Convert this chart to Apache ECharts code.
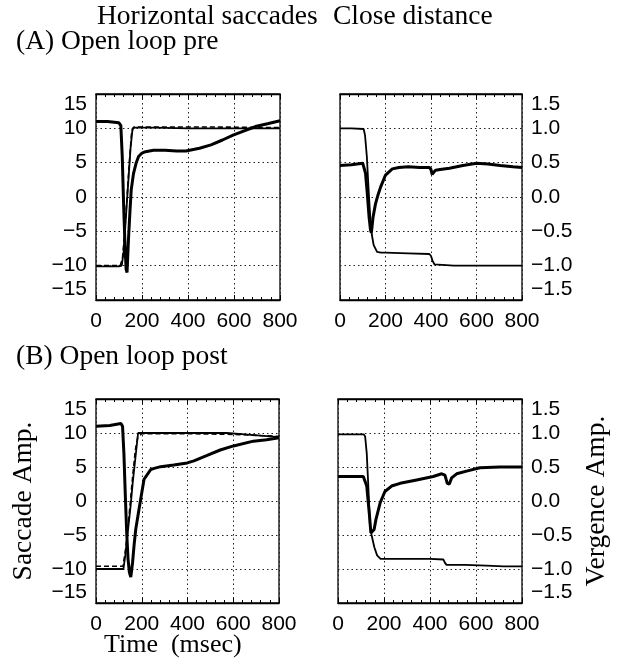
<!DOCTYPE html>
<html><head><meta charset="utf-8">
<script src="https://cdn.jsdelivr.net/npm/echarts@6/dist/echarts.min.js"></script>
<style>html,body{margin:0;padding:0;background:#fff}#c{width:619px;height:660px}</style>
</head><body><div id="c"></div>
<script>
// ---- tick labels ----
const timeTicks = [0, 200, 400, 600, 800];
const saccadeTicks = [-15, -10, -5, 0, 5, 10, 15];
const vergenceTicks = [-1.5, -1.0, -0.5, 0.0, 0.5, 1.0, 1.5];

// ---- (A) open loop pre, horizontal saccades ----
const aSacThickT = [0, 50, 100, 108, 114, 120, 126, 131, 135, 141, 147, 153, 163, 175, 185, 200, 215, 250, 300, 350, 391, 450, 500, 550, 596, 650, 698, 750, 800];
const aSacThickV = [11.0, 11.0, 10.8, 10.4, 6.0, -1.0, -7.0, -10.5, -11.0, -6.3, -2.5, 1.0, 3.4, 5.0, 5.9, 6.4, 6.6, 6.8, 6.8, 6.7, 6.7, 7.1, 7.6, 8.3, 9.0, 9.7, 10.3, 10.7, 11.1];
const aSacThinT = [0, 50, 100, 112, 120, 130, 140, 150, 159, 170, 250, 400, 600, 800];
const aSacThinV = [-10.1, -10.1, -10.1, -10.0, -8.0, -3.0, 2.0, 7.0, 10.0, 10.1, 10.1, 10.0, 10.0, 10.0];
const aSacDashT = [0, 105, 115, 125, 135, 145, 155, 165, 300, 500, 800];
const aSacDashV = [-10.0, -10.0, -9.0, -5.0, 0.0, 5.0, 9.5, 10.2, 10.2, 10.2, 10.1];

// ---- (A) open loop pre, vergence ----
const aVerThinT = [0, 50, 104, 110, 118, 125, 133, 140, 148, 163, 180, 200, 300, 393, 400, 407, 415, 422, 500, 600, 700, 800];
const aVerThinV = [1.0, 1.0, 0.99, 0.9, 0.59, 0.15, -0.3, -0.55, -0.7, -0.8, -0.81, -0.81, -0.82, -0.83, -0.86, -0.93, -0.98, -1.0, -1.0, -1.0, -1.0, -1.0];
const aVerThickT = [0, 50, 100, 106, 112, 120, 128, 134, 138, 145, 156, 167, 178, 200, 230, 259, 300, 350, 393, 400, 405, 412, 420, 440, 481, 540, 600, 650, 704, 760, 800];
const aVerThickV = [0.46, 0.47, 0.49, 0.48, 0.35, 0.05, -0.3, -0.48, -0.52, -0.3, -0.10, 0.03, 0.14, 0.32, 0.41, 0.43, 0.44, 0.43, 0.43, 0.40, 0.33, 0.36, 0.39, 0.40, 0.42, 0.46, 0.49, 0.48, 0.46, 0.44, 0.43];

// ---- (B) open loop post, horizontal saccades ----
const bSacThickT = [0, 60, 109, 116, 122, 128, 134, 140, 146, 152, 160, 167, 174, 188, 210, 239, 254, 283, 340, 399, 428, 486, 543, 601, 688, 746, 800];
const bSacThickV = [11.0, 11.1, 11.4, 11.0, 7.0, 1.0, -4.5, -8.5, -10.5, -11.2, -9.0, -6.3, -4.1, -1.2, 3.2, 4.6, 4.8, 5.05, 5.3, 5.6, 5.9, 6.7, 7.5, 8.1, 8.8, 9.0, 9.3];
const bSacThinT = [0, 60, 120, 128, 136, 144, 152, 160, 168, 176, 184, 250, 400, 572, 650, 720, 800];
const bSacThinV = [-10.0, -10.0, -10.0, -8.0, -5.5, -3.0, -0.5, 2.5, 5.0, 7.5, 10.0, 10.0, 10.0, 10.0, 9.8, 9.6, 9.4];
const bSacDashT = [0, 118, 130, 145, 160, 172, 182, 200, 400, 600, 800];
const bSacDashV = [-9.6, -9.6, -7.0, -2.0, 3.5, 7.5, 9.3, 9.9, 9.9, 9.8, 9.5];

// ---- (B) open loop post, vergence ----
const bVerThinT = [0, 60, 112, 118, 125, 132, 139, 146, 158, 170, 185, 204, 300, 400, 458, 465, 472, 550, 646, 720, 800];
const bVerThinV = [0.98, 0.98, 0.98, 0.95, 0.7, 0.2, -0.37, -0.5, -0.68, -0.8, -0.85, -0.85, -0.85, -0.85, -0.86, -0.91, -0.94, -0.94, -0.95, -0.96, -0.96];
const bVerThickT = [0, 60, 110, 125, 136, 143, 151, 157, 165, 183, 204, 233, 270, 342, 414, 451, 465, 475, 484, 494, 516, 559, 617, 704, 800];
const bVerThickV = [0.36, 0.36, 0.36, 0.22, -0.18, -0.47, -0.48, -0.42, -0.27, -0.03, 0.14, 0.22, 0.26, 0.31, 0.36, 0.40, 0.38, 0.26, 0.25, 0.34, 0.40, 0.44, 0.49, 0.50, 0.50];

// ---------------------------------------------------------------
const SANS = '"Liberation Sans", Arial, Helvetica, sans-serif';
const SERIF = '"Liberation Serif", "Times New Roman", serif';
const zip = (t, v) => t.map((x, i) => [x, v[i]]);
const minus = s => s.replace('-', '\u2212');

const grids = [
  {left: 96, top: 94, width: 184, height: 206},
  {left: 340, top: 94, width: 182, height: 206},
  {left: 96, top: 399, width: 183, height: 204},
  {left: 338, top: 399, width: 184, height: 204}
].map(g => Object.assign(g, {show: true, borderColor: '#000', borderWidth: 1.3, backgroundColor: 'transparent'}));

const dotted = {show: true, lineStyle: {type: [1.5, 3], color: '#222', width: 1}};

function xAxes(gi) {
  const base = {
    gridIndex: gi, type: 'value',
    min: timeTicks[0], max: timeTicks[timeTicks.length - 1], interval: timeTicks[1] - timeTicks[0],
    axisLine: {show: true, onZero: false, lineStyle: {color: '#000', width: 1.3}},
    axisTick: {show: true, inside: true, length: 5, lineStyle: {color: '#000', width: 1}},
    minorTick: {show: true, splitNumber: 5, length: 3, lineStyle: {color: '#000', width: 1}}
  };
  return [
    Object.assign({}, base, {position: 'bottom', splitLine: dotted,
      axisLabel: {fontFamily: SANS, fontSize: 21, color: '#000', margin: 11}}),
    Object.assign({}, base, {position: 'top', splitLine: {show: false}, axisLabel: {show: false}})
  ];
}

function yAxis(gi, ticks, pos, fmt, name, nameGap) {
  const ax = {
    gridIndex: gi, type: 'value', position: pos,
    min: ticks[0], max: ticks[ticks.length - 1], interval: ticks[1] - ticks[0],
    axisLine: {show: false}, axisTick: {show: false},
    splitLine: dotted,
    axisLabel: {fontFamily: SANS, fontSize: 21, color: '#000', margin: 9,
      formatter: fmt, verticalAlignMinLabel: 'bottom', verticalAlignMaxLabel: 'top'}
  };
  if (name) {
    Object.assign(ax, {name: name, nameLocation: 'middle', nameGap: nameGap, nameRotate: 90,
      nameTextStyle: {fontFamily: SERIF, fontSize: 27.5, color: '#000'}});
  }
  return ax;
}
const sacFmt = v => minus(String(v));
const verFmt = v => minus(v.toFixed(1));

const xAxis = [].concat(xAxes(0), xAxes(1), xAxes(2), xAxes(3));
const yAxisArr = [
  yAxis(0, saccadeTicks, 'left', sacFmt),
  yAxis(1, vergenceTicks, 'right', verFmt),
  yAxis(2, saccadeTicks, 'left', sacFmt, 'Saccade Amp.', 58),
  yAxis(3, vergenceTicks, 'right', verFmt, 'Vergence Amp.', 61)
];

function line(gi, t, v, width, dashed) {
  return {
    type: 'line', xAxisIndex: gi * 2, yAxisIndex: gi, data: zip(t, v),
    showSymbol: false, symbol: 'none', silent: true,
    lineStyle: {color: '#000', width: width, type: dashed ? [5, 3] : 'solid'},
    z: dashed ? 3 : 2
  };
}

const series = [
  line(0, aSacThinT, aSacThinV, 1.8),
  line(0, aSacDashT, aSacDashV, 1.6, true),
  line(0, aSacThickT, aSacThickV, 3),
  line(1, aVerThinT, aVerThinV, 1.8),
  line(1, aVerThickT, aVerThickV, 3),
  line(2, bSacThinT, bSacThinV, 1.8),
  line(2, bSacDashT, bSacDashV, 1.6, true),
  line(2, bSacThickT, bSacThickV, 3),
  line(3, bVerThinT, bVerThinV, 1.8),
  line(3, bVerThickT, bVerThickV, 3)
];

const tStyle = {fontFamily: SERIF, fontSize: 27.5, fontWeight: 'normal', color: '#000'};
const tStyleSmall = Object.assign({}, tStyle, {fontSize: 26});
const title = [
  {text: 'Horizontal saccades', left: 97, top: 3, padding: 0, textStyle: tStyle},
  {text: 'Close distance', left: 333, top: 3, padding: 0, textStyle: tStyle},
  {text: '(A) Open loop pre', left: 16, top: 28, padding: 0, textStyle: tStyle},
  {text: '(B) Open loop post', left: 16, top: 343, padding: 0, textStyle: tStyle},
  {text: 'Time  (msec)', left: 104, top: 632, padding: 0, textStyle: tStyleSmall}
];

const chart = echarts.init(document.getElementById('c'), null, {renderer: 'canvas'});
chart.setOption({
  animation: false,
  backgroundColor: '#fff',
  title: title,
  grid: grids,
  xAxis: xAxis,
  yAxis: yAxisArr,
  series: series
});
</script></body></html>
